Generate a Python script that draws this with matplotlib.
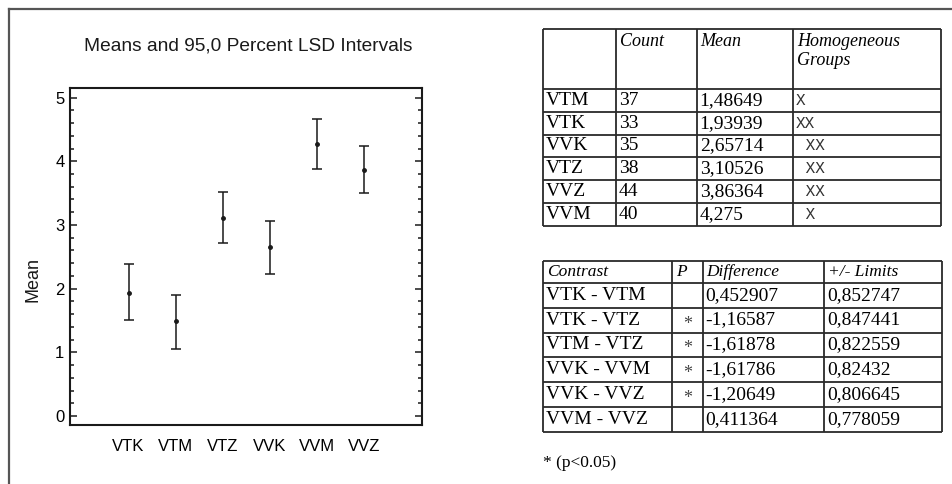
import numpy as np
import matplotlib
matplotlib.use("Agg")
import matplotlib.pyplot as plt
from matplotlib.ticker import MultipleLocator
from matplotlib.lines import Line2D
from matplotlib import font_manager

# chart data (plot order)
groups = ["VTK", "VTM", "VTZ", "VVK", "VVM", "VVZ"]
means = [1.93939, 1.48649, 3.10526, 2.65714, 4.275, 3.86364]
lsd_low = [1.51, 1.06, 2.71, 2.23, 3.88, 3.50]
lsd_high = [2.38, 1.90, 3.52, 3.07, 4.67, 4.24]

# table 1: homogeneous groups
t1_header = ["", "Count", "Mean", "Homogeneous\nGroups"]
t1_names = ["VTM", "VTK", "VVK", "VTZ", "VVZ", "VVM"]
t1_counts = ["37", "33", "35", "38", "44", "40"]
t1_means = ["1,48649", "1,93939", "2,65714", "3,10526", "3,86364", "4,275"]
t1_groups = ["X", "XX", " XX", " XX", " XX", " X"]

# table 2: contrasts
t2_header = ["Contrast", "P", "Difference", "+/- Limits"]
t2_contrast = ["VTK - VTM", "VTK - VTZ", "VTM - VTZ", "VVK - VVM", "VVK - VVZ", "VVM - VVZ"]
t2_sig = ["", "*", "*", "*", "*", ""]
t2_diff = ["0,452907", "-1,16587", "-1,61878", "-1,61786", "-1,20649", "0,411364"]
t2_limits = ["0,852747", "0,847441", "0,822559", "0,82432", "0,806645", "0,778059"]

names = sorted({f.name for f in font_manager.fontManager.ttflist})
print([n for n in names if "Narrow" in n or "Condensed" in n or "DejaVu" in n or "Liberation" in n])

W, H = 953, 484
fig = plt.figure(figsize=(W / 100, H / 100), dpi=100)

narrow = ["Liberation Sans Narrow", "DejaVu Sans Condensed", "Liberation Sans"]
sans = ["Liberation Sans", "DejaVu Sans"]
serif = ["Liberation Serif", "DejaVu Serif"]
mono = ["Liberation Mono", "DejaVu Sans Mono"]

# ---- left: means plot ----
ax = fig.add_axes([70 / W, 1 - 425 / H, 352 / W, 337 / H])
x = np.arange(len(groups))
m = np.array(means)
err = [m - np.array(lsd_low), np.array(lsd_high) - m]
ax.errorbar(x, m, yerr=err, fmt="o", ms=2.5, color="#1a1a1a",
            ecolor="#1a1a1a", elinewidth=1.1, capsize=3.6, capthick=1.1)
ax.set_xlim(-1.24, 6.22)
ax.set_ylim(-0.14, 5.15)
ax.set_xticks(x)
ax.set_xticklabels(groups, family=narrow, fontsize=12, stretch="condensed")
ax.set_yticks(range(6))
ax.set_yticklabels([str(i) for i in range(6)], family=narrow, fontsize=12,
                   stretch="condensed")
ax.yaxis.set_minor_locator(MultipleLocator(0.2))
ax.tick_params(axis="y", which="both", direction="in", left=True, right=True,
               width=1.1, color="#1a1a1a", pad=4)
ax.tick_params(axis="y", which="major", length=5)
ax.tick_params(axis="y", which="minor", length=3)
ax.tick_params(axis="x", length=0, pad=10)
for s in ax.spines.values():
    s.set_linewidth(1.5)
    s.set_color("#1a1a1a")

fig.text(248 / W, 1 - 46 / H, "Means and 95,0 Percent LSD Intervals",
         family=sans, fontsize=13.8, ha="center", va="center", color="#1a1a1a")
fig.text(33 / W, 1 - 279 / H, "Mean", family=sans, fontsize=13,
         rotation=90, ha="center", va="center", color="#1a1a1a")

# outer frame (top and left edges only)
fig.add_artist(Line2D([9 / W, 1], [1 - 9 / H, 1 - 9 / H], color="#555555", lw=1.6))
fig.add_artist(Line2D([9 / W, 9 / W], [1 - 9 / H, 0], color="#555555", lw=1.6))

# ---- right: tables, drawn in a pixel-space overlay ----
tab = fig.add_axes([0, 0, 1, 1])
tab.set_xlim(0, W)
tab.set_ylim(H, 0)
tab.axis("off")
lc = "#2a2a2a"


def draw_grid(cols, rows):
    tab.hlines(rows, cols[0], cols[-1], color=lc, lw=1.3)
    tab.vlines(cols, rows[0], rows[-1], color=lc, lw=1.3)


# table 1
c1 = [543, 615.7, 696.7, 792.7, 941]
r1 = [28.5, 89] + [89 + 22.8 * (i + 1) for i in range(6)]
draw_grid(c1, r1)
for j, h in enumerate(t1_header):
    tab.text(c1[j] + 4, r1[0] + 4, h, family=serif, style="italic",
             fontsize=13, ha="left", va="top", linespacing=1.2)
for i in range(6):
    yc = (r1[i + 1] + r1[i + 2]) / 2
    for j, val in enumerate([t1_names[i], t1_counts[i], t1_means[i]]):
        tab.text(c1[j] + 3, yc, val, family=serif, fontsize=14,
                 ha="left", va="center")
    tab.text(c1[3] + 3, yc, t1_groups[i], family=mono, fontsize=11.5,
             ha="left", va="center", color="#333333")

# table 2
c2 = [543, 671.7, 702.7, 824.3, 942]
r2 = [261, 282.7] + [282.7 + 24.9 * (i + 1) for i in range(6)]
draw_grid(c2, r2)
for j, h in enumerate(t2_header):
    tab.text(c2[j] + 4, (r2[0] + r2[1]) / 2, h, family=serif, style="italic",
             fontsize=12.5, ha="left", va="center")
for i in range(6):
    yc = (r2[i + 1] + r2[i + 2]) / 2
    tab.text(c2[0] + 3, yc, t2_contrast[i], family=serif, fontsize=14,
             ha="left", va="center")
    tab.text((c2[1] + c2[2]) / 2, yc + 4, t2_sig[i], family=serif, fontsize=13,
             ha="center", va="center", color="#444444")
    tab.text(c2[2] + 3, yc, t2_diff[i], family=serif, fontsize=14,
             ha="left", va="center")
    tab.text(c2[3] + 3, yc, t2_limits[i], family=serif, fontsize=14,
             ha="left", va="center")

tab.text(543, 463, "* (p<0.05)", family=serif, fontsize=12.5,
         ha="left", va="center")

fig.savefig("out.png", dpi=100)
